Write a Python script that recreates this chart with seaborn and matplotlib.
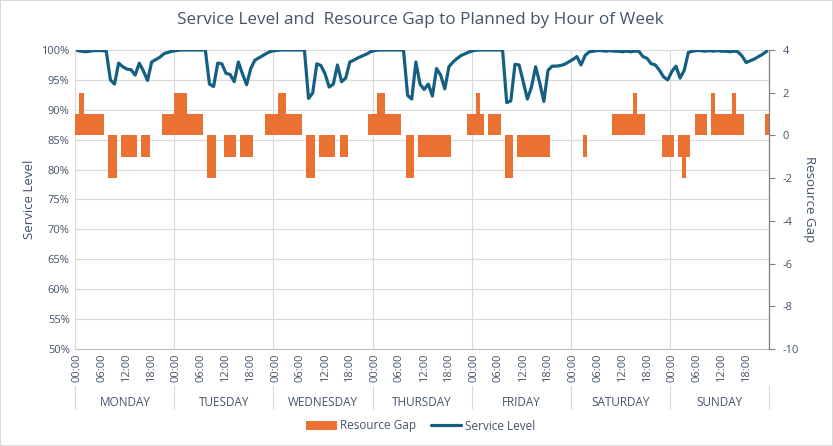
import numpy as np
import pandas as pd
import matplotlib
matplotlib.use("Agg")
import matplotlib.pyplot as plt
import seaborn as sns
from matplotlib.ticker import PercentFormatter

# ---------------- data ----------------
days = ["MONDAY", "TUESDAY", "WEDNESDAY", "THURSDAY", "FRIDAY", "SATURDAY", "SUNDAY"]
hour_labels = ["00:00", "06:00", "12:00", "18:00"]
hour_label_positions = [0, 6, 12, 18]

# Resource gap (right axis), one value per hour of each day
mon_gap = [1, 2, 1, 1, 1, 1, 1, 0, -2, -2, 0, -1, -1, -1, -1, 0, -1, -1, 0, 0, 0, 1, 1, 1]
tue_gap = [2, 2, 2, 1, 1, 1, 1, 0, -2, -2, 0, 0, -1, -1, -1, 0, -1, -1, -1, 0, 0, 0, 1, 1]
wed_gap = [1, 2, 2, 1, 1, 1, 1, 0, -2, -2, 0, -1, -1, -1, -1, 0, -1, -1, 0, 0, 0, 0, 0, 1]
thu_gap = [1, 2, 2, 1, 1, 1, 1, 0, -2, -2, 0, -1, -1, -1, -1, -1, -1, -1, -1, 0, 0, 0, 0, 1]
fri_gap = [1, 2, 1, 0, 1, 1, 1, 0, -2, -2, 0, -1, -1, -1, -1, -1, -1, -1, -1, 0, 0, 0, 0, 0]
sat_gap = [0, 0, 0, -1, 0, 0, 0, 0, 0, 0, 1, 1, 1, 1, 1, 2, 1, 1, 0, 0, 0, 0, -1, -1]
sun_gap = [-1, 0, -1, -2, -1, 0, 1, 1, 1, 0, 2, 1, 1, 1, 1, 2, 1, 1, 0, 0, 0, 0, 0, 1]

# Service level in % (left axis)
mon_sl = [99.9, 99.8, 99.7, 99.8, 99.9, 99.9, 99.9, 99.8, 95.0, 94.3, 97.8, 97.2,
          96.8, 96.7, 95.8, 97.8, 96.5, 94.9, 98.0, 98.4, 98.8, 99.4, 99.6, 99.8]
tue_sl = [99.9, 100, 100, 100, 100, 100, 100, 100, 94.3, 93.9, 97.8, 97.7,
          96.1, 95.9, 94.7, 98.0, 96.0, 94.2, 96.9, 98.3, 98.7, 99.1, 99.5, 99.8]
wed_sl = [99.9, 100, 100, 100, 100, 100, 100, 100, 91.9, 92.8, 97.7, 97.4,
          96.0, 93.8, 94.3, 97.5, 94.7, 95.3, 98.0, 98.3, 98.7, 99.0, 99.3, 99.7]
thu_sl = [99.9, 100, 100, 100, 100, 100, 100, 100, 92.4, 91.8, 98.0, 94.3,
          93.4, 94.3, 92.3, 96.9, 95.8, 93.5, 97.2, 98.0, 98.6, 99.1, 99.4, 99.7]
fri_sl = [99.9, 100, 100, 100, 100, 100, 100, 100, 91.2, 91.5, 97.6, 97.5,
          94.7, 91.8, 93.8, 97.2, 94.5, 91.4, 96.6, 97.3, 97.3, 97.4, 97.6, 98.0]
sat_sl = [98.4, 98.9, 97.5, 99.1, 99.7, 99.8, 99.9, 99.9, 99.8, 99.9, 99.8, 99.8,
          99.7, 99.8, 99.7, 99.8, 99.8, 98.9, 98.6, 97.7, 97.5, 96.6, 95.5, 95.0]
sun_sl = [96.4, 97.3, 95.3, 96.6, 99.6, 99.8, 99.9, 99.9, 99.8, 99.9, 99.8, 99.9,
          99.8, 99.8, 99.7, 99.8, 99.7, 99.0, 97.9, 98.2, 98.5, 98.9, 99.3, 99.8]

gap = mon_gap + tue_gap + wed_gap + thu_gap + fri_gap + sat_gap + sun_gap
sl = mon_sl + tue_sl + wed_sl + thu_sl + fri_sl + sat_sl + sun_sl
n_hours = len(gap)
df = pd.DataFrame({"hour": np.arange(n_hours), "gap": gap, "sl": np.array(sl) / 100.0})

# ---------------- style ----------------
BLUE = "#156082"
ORANGE = "#E97132"
TEXT = "#44546A"
GRID = "#D9D9D9"

sns.set_theme(style="white")
plt.rcParams["font.family"] = ["Open Sans", "DejaVu Sans"]
plt.rcParams["axes.unicode_minus"] = False

fig = plt.figure(figsize=(8.33, 4.46), dpi=100)
rect = [0.0904, 0.2175, 0.8326, 0.6704]
ax = fig.add_axes(rect)
ax2 = ax.twinx()
ax3 = fig.add_axes(rect, sharex=ax, sharey=ax)
ax.set_zorder(0)
ax2.set_zorder(1)
ax3.set_zorder(2)
ax2.patch.set_visible(False)
ax3.patch.set_visible(False)

# bars: resource gap
sns.barplot(data=df, x="hour", y="gap", ax=ax2, color=ORANGE, width=1,
            native_scale=True, saturation=1, errorbar=None, linewidth=0,
            label="Resource Gap")
# line: service level
sns.lineplot(data=df, x="hour", y="sl", ax=ax3, color=BLUE, linewidth=2.3,
             errorbar=None, label="Service Level")
for a in (ax2, ax3):
    if a.get_legend():
        a.get_legend().remove()
ax3.axis("off")

# x axis
ax.set_xlim(-0.5, n_hours - 0.5)
major = [d * 24 + h for d in range(len(days)) for h in hour_label_positions]
ax.set_xticks(major)
ax.set_xticklabels(hour_labels * len(days), rotation=90, fontsize=8, color=TEXT)
bounds = [d * 24 - 0.5 for d in range(len(days) + 1)]
ax.set_xticks(bounds, minor=True)
ax.tick_params(axis="x", which="major", length=0, pad=3)
ax.tick_params(axis="x", which="minor", length=4, color=GRID, width=0.8)
ax.grid(which="minor", axis="x", color=GRID, linewidth=0.8)
ax.grid(which="major", axis="x", visible=False)
ax.set_xlabel("")

# day labels level
sec = ax.secondary_xaxis(-0.12)
sec.set_xticks([d * 24 + 11.5 for d in range(len(days))])
sec.set_xticklabels(days, fontsize=8.5, color=TEXT)
sec.set_xticks(bounds, minor=True)
sec.tick_params(axis="x", which="major", length=0, pad=8)
sec.tick_params(axis="x", which="minor", length=17, color=GRID, width=0.8, direction="out")
sec.spines["bottom"].set_visible(False)

# left y axis (service level)
ax.set_ylim(0.5, 1.0)
ax.set_yticks(np.arange(0.5, 1.0001, 0.05))
ax.yaxis.set_major_formatter(PercentFormatter(1, decimals=0))
ax.tick_params(axis="y", length=0, labelsize=8, labelcolor=TEXT, pad=4)
ax.grid(which="major", axis="y", color=GRID, linewidth=0.8)
ax.set_ylabel("Service Level", fontsize=9.5, color=TEXT, labelpad=4)
for s in ["left", "top", "right"]:
    ax.spines[s].set_visible(False)
ax.spines["bottom"].set_color("#BFBFBF")
ax.spines["bottom"].set_linewidth(0.8)

# right y axis (resource gap)
ax2.set_ylim(-10, 4)
ax2.set_yticks(np.arange(-10, 5, 2))
ax2.tick_params(axis="y", length=4, color="#7F7F7F", width=0.8, labelsize=8,
                labelcolor=TEXT, pad=6)
ax2.set_ylabel("Resource Gap", fontsize=9.5, color=TEXT, rotation=270, labelpad=12)
ax2.grid(False)
for s in ["left", "top", "bottom"]:
    ax2.spines[s].set_visible(False)
ax2.spines["right"].set_color("#7F7F7F")
ax2.spines["right"].set_linewidth(0.9)

# title
fig.text(0.505, 0.955, "Service Level and  Resource Gap to Planned by Hour of Week",
         ha="center", va="center", fontsize=12.3, color=TEXT)

# legend
handles = [ax2.patches[0], ax3.lines[0]]
fig.legend(handles, ["Resource Gap", "Service Level"], loc="center",
           bbox_to_anchor=(0.505, 1 - 426 / 446), ncol=2, frameon=False,
           fontsize=8.5, handlelength=2.6, handleheight=0.9, columnspacing=1.2,
           handletextpad=0.3, labelcolor=TEXT)

fig.patch.set_edgecolor(GRID)
fig.patch.set_linewidth(1.2)
fig.savefig("out.png", dpi=100, edgecolor=fig.get_edgecolor())
